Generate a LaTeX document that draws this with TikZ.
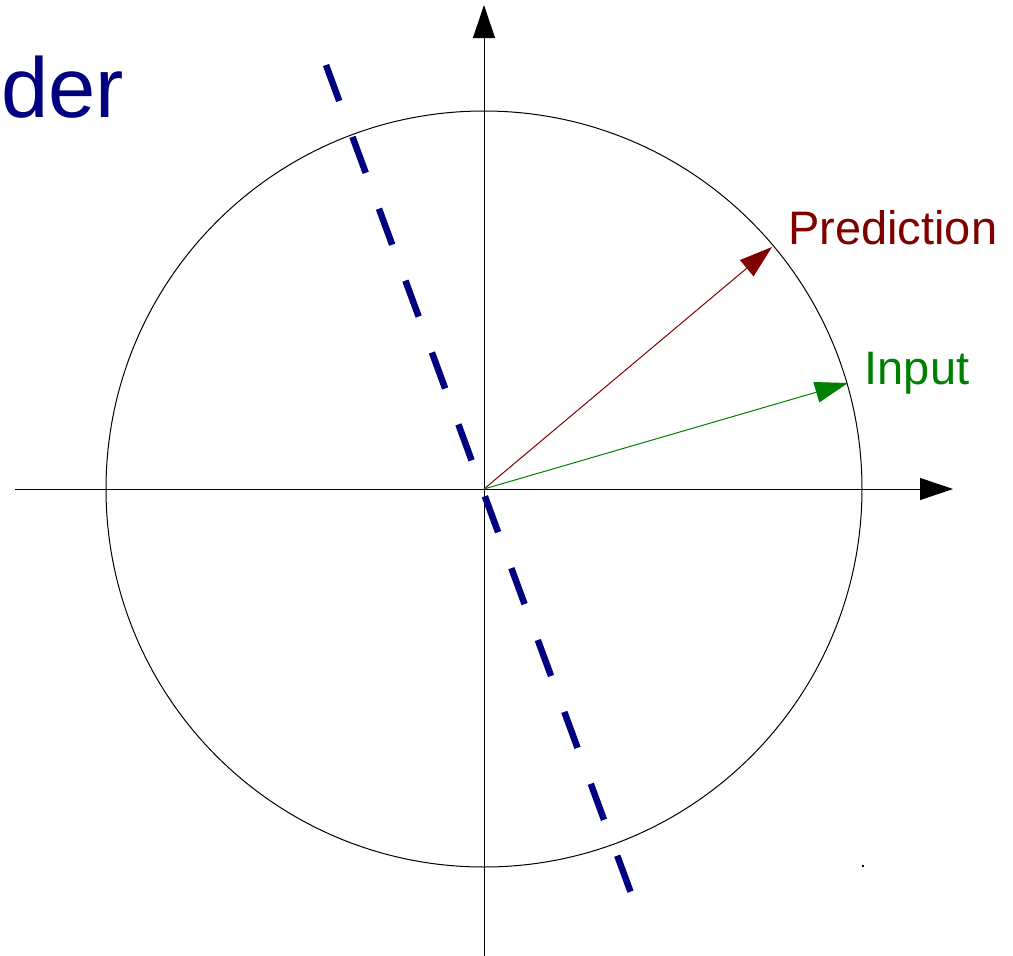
\documentclass[tikz,border=0pt]{standalone}
\usepackage{fontspec}
\setmainfont{Liberation Sans}
\usetikzlibrary{arrows.meta}
\definecolor{navy}{RGB}{0,0,128}
\definecolor{predred}{RGB}{128,0,0}
\definecolor{inpgreen}{RGB}{0,128,0}
\begin{document}
\begin{tikzpicture}[x=1pt,y=-1pt,
  axis/.style={line width=1pt,black,-{Triangle[length=33pt,width=22pt]}},
  vec/.style={line width=1pt,-{Triangle[length=33pt,width=21pt]}},
  lbl/.style={inner sep=0pt,anchor=base west,font=\fontsize{47}{56}\selectfont},
  bound/.style={navy,line width=6.5pt,dash pattern=on 38.3pt off 38.3pt}]
\useasboundingbox (0,0) rectangle (1013,956);
\coordinate (O) at (484,489);
\coordinate (xl) at (15,489);
\coordinate (xr) at (953,489);
\coordinate (yb) at (484,956);
\coordinate (yt) at (484,5);
\coordinate (P) at (772,247);
\coordinate (I) at (848,383);
\draw[axis] (xl) -- (xr);
\draw[axis] (yb) -- (yt);
\draw[line width=1pt] (O) circle[radius=378];
\draw[vec,predred] (O) -- (P);
\draw[vec,inpgreen] (O) -- (I);
\node[lbl,text=predred] (plabel) at (788,244) {Prediction};
\node[lbl,text=inpgreen] (ilabel) at (864.5,384) {Input};
\node[inner sep=0pt,anchor=base west,text=navy,font=\fontsize{85}{100}\selectfont] (der) at (1,117) {der};
\coordinate (d1) at (326,65);
\coordinate (d2) at (631,893);
\draw[bound] (d1) -- (d2);
\fill[black] (862.3,865.3) rectangle (863.7,866.7);
\end{tikzpicture}
\end{document}
